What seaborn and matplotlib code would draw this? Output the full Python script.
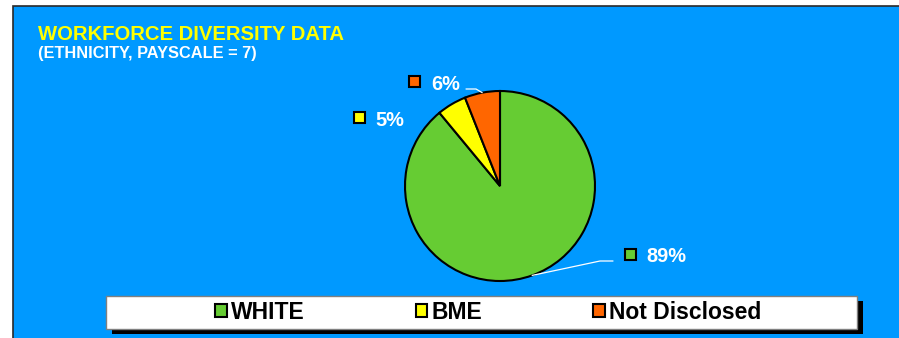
import numpy as np
import matplotlib
matplotlib.use("Agg")
import matplotlib.pyplot as plt
from matplotlib.patches import Rectangle
from matplotlib.lines import Line2D
import seaborn as sns

# Workforce ethnicity split, payscale 7
categories = ["WHITE", "BME", "Not Disclosed"]
shares = [89, 5, 6]
slice_colors = ["#66CC33", "#FFFF00", "#FF6600"]
title_text = "WORKFORCE DIVERSITY DATA"
subtitle_text = "(ETHNICITY, PAYSCALE = 7)"

sns.set_theme(style="white")
plt.rcParams["font.family"] = ["Liberation Sans", "DejaVu Sans"]
plt.rcParams["font.weight"] = "bold"

W, H = 899, 338
fig = plt.figure(figsize=(W / 100, H / 100), dpi=100)
fig.patch.set_facecolor("white")

# background layer in pixel coordinates (y grows downward)
ax_bg = fig.add_axes([0, 0, 1, 1], zorder=0)
ax_bg.set_xlim(0, W)
ax_bg.set_ylim(H, 0)
ax_bg.axis("off")
ax_bg.add_patch(Rectangle((12.5, 5.5), W, H, facecolor="#0099FF",
                          edgecolor="#2a2a2a", linewidth=1.2))

# pie drawn into a square axes box
cx, cy, r = 500, 186, 95
ax_pie = fig.add_axes([(cx - r) / W, (H - cy - r) / H, 2 * r / W, 2 * r / H], zorder=1)
wedges, _ = ax_pie.pie(shares, colors=slice_colors, startangle=90, counterclock=False,
                       wedgeprops=dict(edgecolor="black", linewidth=1.5))
ax_pie.set_xlim(-1, 1)
ax_pie.set_ylim(-1, 1)
ax_pie.axis("off")

# overlay for titles, labels and legend
ax_ov = fig.add_axes([0, 0, 1, 1], zorder=2)
ax_ov.set_xlim(0, W)
ax_ov.set_ylim(H, 0)
ax_ov.axis("off")
ax_ov.patch.set_alpha(0)

ax_ov.text(38, 40, title_text, color="#FFFF00", fontsize=14.6,
           fontweight="bold", va="baseline", ha="left")
ax_ov.text(38, 58, subtitle_text, color="white", fontsize=11.8,
           fontweight="bold", va="baseline", ha="left")

fig.canvas.draw()


def edge_point(wedge):
    mid = np.deg2rad((wedge.theta1 + wedge.theta2) / 2)
    disp = ax_pie.transData.transform((np.cos(mid), np.sin(mid)))
    return ax_ov.transData.inverted().transform(disp)


# value labels: (marker centre, text anchor, leader path)
label_spots = {
    "WHITE": ((630, 254), (646, 262), [(613, 261), (600, 261)]),
    "BME": ((359, 117.5), (375, 126.5), None),
    "Not Disclosed": ((414, 81.5), (431, 90), [(466, 89), (476, 89)]),
}
for wedge, name, val, col in zip(wedges, categories, shares, slice_colors):
    (mx, my), (tx, ty), lead = label_spots[name]
    ax_ov.add_patch(Rectangle((mx - 5.5, my - 5.5), 11, 11, facecolor=col,
                              edgecolor="black", linewidth=1.5))
    ax_ov.text(tx, ty, f"{val}%", color="white", fontsize=14.4,
               fontweight="bold", va="baseline", ha="left")
    if lead is not None:
        ex, ey = edge_point(wedge)
        xs = [p[0] for p in lead] + [ex]
        ys = [p[1] for p in lead] + [ey]
        ax_ov.add_line(Line2D(xs, ys, color="white", linewidth=0.9))

# legend box with drop shadow
bx0, by0, bx1, by1 = 106, 296, 857, 329
ax_ov.add_patch(Rectangle((bx0 + 6, by0 + 5), bx1 - bx0, by1 - by0,
                          facecolor="black", edgecolor="none"))
ax_ov.add_patch(Rectangle((bx0, by0), bx1 - bx0, by1 - by0,
                          facecolor="white", edgecolor="#808080", linewidth=1))

handles = [Rectangle((0, 0), 1, 1, facecolor=c, edgecolor="black", linewidth=1.5)
           for c in slice_colors]
leg = ax_ov.legend(handles, categories, loc="center", bbox_to_anchor=(488, 312.5),
                   bbox_transform=ax_ov.transData, ncol=3, frameon=False,
                   prop=dict(family="Liberation Sans", weight="bold", size=16.5),
                   handlelength=0.5, handleheight=0.5, handletextpad=0.18,
                   columnspacing=4.85, borderpad=0)
for t in leg.get_texts():
    t.set_color("black")

fig.savefig("out.png", dpi=100, facecolor="white")
